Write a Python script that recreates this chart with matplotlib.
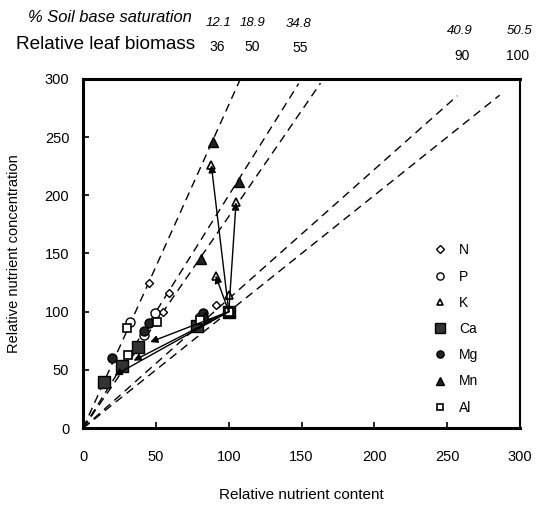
import matplotlib
matplotlib.use('Agg')
import matplotlib.pyplot as plt

plt.rcParams['font.family'] = ['Liberation Sans', 'DejaVu Sans']

# site info (top annotations)
base_sat = ['12.1', '18.9', '34.8', '40.9', '50.5']
biomass = [36, 50, 55, 90, 100]
# where each biomass isoline stops (relative content)
iso_end = [108, 148, 163, 257, 286]

# relative nutrient content (x) and concentration (y), sites in biomass order
N_x = [45, 59, 55, 91, 100]
N_y = [125, 116, 100, 106, 100]
P_x = [32, 49, 42, 80, 100]
P_y = [91, 99, 80, 95, 100]
K_x = [88, 105, 91, 100, 100]
K_y = [226, 194, 131, 114, 100]
Ca_x = [14, 27, 38, 78, 100]
Ca_y = [40, 53, 70, 88, 100]
Mg_x = [20, 45, 42, 82, 100]
Mg_y = [60, 90, 83, 99, 100]
Mn_x = [89, 107, 81, 84, 100]
Mn_y = [246, 211, 145, 95, 100]
Al_x = [30, 51, 31, 80, 100]
Al_y = [86, 91, 63, 93, 100]

fig = plt.figure(figsize=(5.4, 5.09), dpi=100)
ax = fig.add_axes([0.154, 0.159, 0.809, 0.686])

# biomass isolines through the origin
for b, xe in zip(biomass, iso_end):
    ax.plot([0, xe], [0, xe * 100.0 / b], ls=(0, (6, 4)), color='black', lw=1.0)

# vectors from the reference point
for i in range(3):
    ax.annotate('', xy=(Ca_x[i], Ca_y[i]), xytext=(Ca_x[4], Ca_y[4]),
                arrowprops=dict(arrowstyle='-|>', color='black', lw=1.0,
                                mutation_scale=11, shrinkA=0, shrinkB=9))
    ax.annotate('', xy=(K_x[i], K_y[i]), xytext=(K_x[4], K_y[4]),
                arrowprops=dict(arrowstyle='-|>', color='black', lw=1.0,
                                mutation_scale=11, shrinkA=0, shrinkB=0))
ax.plot([Ca_x[3], Ca_x[4]], [Ca_y[3], Ca_y[4]], color='black', lw=1.0)

mk = dict(color='black', ls='none')
ax.plot(N_x, N_y, marker='D', ms=4.5, mfc='white', mew=1.0, label='N', **mk)
ax.plot(P_x, P_y, marker='o', ms=6.5, mfc='white', mew=1.0, label='P', **mk)
ax.plot(K_x, K_y, marker='^', ms=6, mfc='white', mew=1.2, label='K', **mk)
ax.plot(Ca_x, Ca_y, marker='s', ms=8.5, mfc='#333333', mew=1.0, label='Ca', **mk)
ax.plot(Mg_x, Mg_y, marker='o', ms=6.5, mfc='#222222', mew=1.0, label='Mg', **mk)
ax.plot(Mn_x, Mn_y, marker='^', ms=6.5, mfc='#222222', mew=1.0, label='Mn', **mk)
ax.plot(Al_x, Al_y, marker='s', ms=6, mfc='white', mew=1.2, label='Al', **mk)

ax.set_xlim(0, 300)
ax.set_ylim(0, 300)
ax.set_xticks(range(0, 301, 50))
ax.set_yticks(range(0, 301, 50))
ax.tick_params(direction='in', length=4, width=1.2, labelsize=10.5)
ax.tick_params(axis='x', pad=16)
ax.tick_params(axis='y', pad=10)
for s in ax.spines.values():
    s.set_linewidth(2.2)
ax.spines['right'].set_linewidth(1.5)

ax.set_xlabel('Relative nutrient content', fontsize=11, labelpad=17)
ax.set_ylabel('Relative nutrient concentration', fontsize=10.5, labelpad=17)

leg = ax.legend(loc='upper left', bbox_to_anchor=(0.772, 0.565), frameon=False,
                fontsize=10, handlelength=1.0, handletextpad=0.9,
                labelspacing=0.88, markerscale=0.8)

# top annotations
fig.text(0.052, 0.965, '% Soil base saturation', fontsize=11.9, style='italic',
         ha='left', va='center')
fig.text(0.03, 0.913, 'Relative leaf biomass', fontsize=13.7, ha='left', va='center')
sat_pos = [0.404, 0.467, 0.552, 0.852, 0.962]
bio_pos = [0.402, 0.467, 0.556, 0.855, 0.958]
sat_y = [0.955, 0.955, 0.953, 0.94, 0.94]
bio_y = [0.907, 0.907, 0.905, 0.889, 0.889]
for t, px, py in zip(base_sat, sat_pos, sat_y):
    fig.text(px, py, t, fontsize=9.5, style='italic', ha='center', va='center')
for t, px, py in zip(biomass, bio_pos, bio_y):
    fig.text(px, py, str(t), fontsize=10, ha='center', va='center')

fig.savefig('out.png', dpi=100)
